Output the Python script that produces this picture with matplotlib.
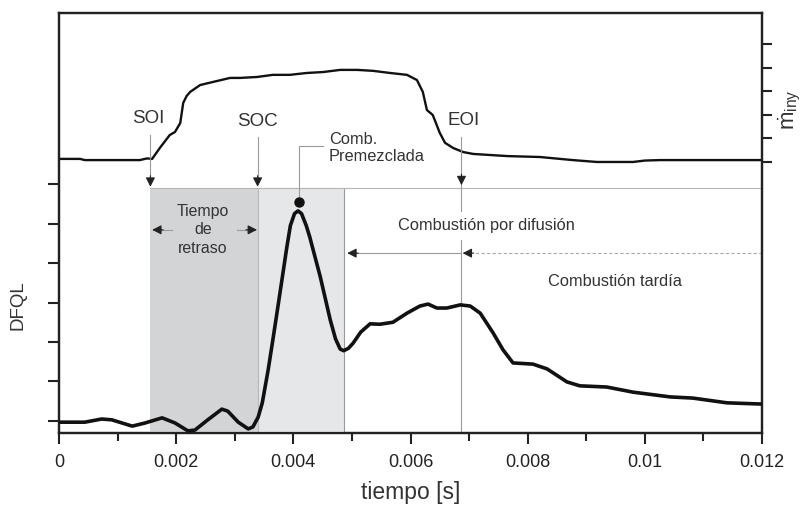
import matplotlib
matplotlib.use("Agg")
import matplotlib.pyplot as plt
from matplotlib.ticker import FixedLocator, MultipleLocator

plt.rcParams['font.family'] = ['Liberation Sans', 'DejaVu Sans']
plt.rcParams['mathtext.default'] = 'regular'

# ---- data (time in ms, converted to s) ----
t_iny = [0.0, 0.36, 0.44, 1.38, 1.50, 1.59, 1.72, 1.89, 1.98, 2.07, 2.12, 2.18, 2.24, 2.41, 2.63,
         2.92, 3.09, 3.38, 3.65, 3.94, 4.23, 4.51, 4.80, 5.09, 5.36, 5.65, 5.94, 6.11, 6.21,
         6.28, 6.38, 6.50, 6.59, 6.73, 6.90, 7.07, 7.65, 8.21, 8.77, 9.18, 9.80, 10.00,
         10.26, 12.0]
t_iny = [v * 1e-3 for v in t_iny]
m_iny = [0.13, 0.13, 0.08, 0.08, 0.15, 0.13, 0.59, 1.14, 1.27, 1.65, 2.50, 2.80, 2.97, 3.26, 3.39,
         3.56, 3.56, 3.60, 3.69, 3.69, 3.77, 3.81, 3.90, 3.90, 3.86, 3.77, 3.69, 3.47, 2.97,
         2.20, 1.99, 1.23, 0.81, 0.59, 0.42, 0.34, 0.25, 0.21, 0.08, 0.0, 0.0, 0.06,
         0.08, 0.08]

t_dfql = [0.0, 0.44, 0.73, 0.90, 1.25, 1.47, 1.76, 1.98, 2.20, 2.32, 2.54, 2.78, 2.88, 3.06,
          3.23, 3.31, 3.40, 3.47, 3.57, 3.65, 3.72, 3.89, 3.95, 4.02, 4.08, 4.14, 4.22, 4.28,
          4.46, 4.63, 4.72, 4.80, 4.86, 4.94, 5.02, 5.15, 5.31, 5.48, 5.70, 5.94, 6.16, 6.30,
          6.45, 6.62, 6.85, 7.02, 7.19, 7.41, 7.58, 7.75, 8.09, 8.33, 8.67, 8.89, 9.35, 9.80,
          10.43, 10.82, 11.40, 11.97, 12.0]
t_dfql = [v * 1e-3 for v in t_dfql]
dfql = [-0.03, -0.03, 0.05, 0.03, -0.13, -0.05, 0.08, -0.05, -0.25, -0.23, 0.03, 0.30, 0.25, -0.03,
        -0.20, -0.15, 0.10, 0.46, 1.29, 2.05, 2.73, 4.41, 4.95, 5.25, 5.32, 5.25, 4.95, 4.66,
        3.65, 2.56, 2.08, 1.82, 1.78, 1.84, 1.97, 2.25, 2.46, 2.45, 2.50, 2.73, 2.91, 2.96,
        2.86, 2.86, 2.94, 2.91, 2.73, 2.23, 1.80, 1.47, 1.44, 1.32, 0.99, 0.89, 0.86, 0.73,
        0.61, 0.58, 0.46, 0.43, 0.43]

# event times (s)
t_soi = 0.00156
t_soc = 0.00339
t_fin_premez = 0.00487
t_eoi = 0.00687
t_peak = 0.00409

x_ticks = [0, 0.002, 0.004, 0.006, 0.008, 0.010, 0.012]
x_tick_labels = ['0', '0.002', '0.004', '0.006', '0.008', '0.01', '0.012']

# ---- figure ----
fig = plt.figure(figsize=(8.08, 5.08), dpi=100)
ax = fig.add_axes([59/808, 75/508, 703/808, 420/508])
ax2 = ax.twinx()

txt = '#333333'
gline = '#9a9a9a'
top_band = 5.90

ax.set_xlim(0, 0.012)
ax.set_ylim(-0.304, 10.33)
ax2.set_ylim(-11.48, 6.31)

# shaded regions
ax.fill_between([t_soi, t_soc], -0.304, top_band, color='#d3d4d6', lw=0, zorder=1)
ax.fill_between([t_soc, t_fin_premez], -0.304, top_band, color='#e6e7e9', lw=0, zorder=1)
ax.plot([t_soc, t_soc], [-0.304, top_band], color='#b8b8ba', lw=0.8, zorder=1.5)
ax.plot([t_fin_premez, t_fin_premez], [-0.304, top_band], color=gline, lw=0.8, zorder=1.5)
ax.plot([t_soi, 0.012], [top_band, top_band], color='#b5b5b5', lw=0.8, zorder=1.5)
ax.plot([t_eoi, t_eoi], [-0.304, 7.19], color=gline, lw=0.8, zorder=1.5)

# curves
ax.plot(t_dfql, dfql, color='#111111', lw=2.6, solid_joinstyle='round', zorder=3)
ax2.plot(t_iny, m_iny, color='#111111', lw=1.7, solid_joinstyle='round', zorder=3)


def head(x, y, dx=0, dy=8):
    ax.annotate('', xy=(x, y), xytext=(dx, dy), textcoords='offset points',
                arrowprops=dict(arrowstyle='-|>,head_length=0.55,head_width=0.28',
                                color='#222222', lw=0.8, shrinkA=0, shrinkB=0), zorder=5)


# SOI / SOC / EOI labels and arrows
ax.text(0.00152, 7.65, 'SOI', ha='center', va='center', fontsize=13.5, color=txt)
ax.plot([t_soi, t_soi], [7.24, 6.1], color=gline, lw=0.8)
head(t_soi, 5.93)
ax.text(t_soc, 7.59, 'SOC', ha='center', va='center', fontsize=13.5, color=txt)
ax.plot([t_soc, t_soc], [7.19, 6.1], color=gline, lw=0.8)
head(t_soc, 5.93)
ax.text(0.00690, 7.62, 'EOI', ha='center', va='center', fontsize=13.5, color=txt)
head(t_eoi, 5.97)

# premixed combustion
ax.text(0.00461, 6.91, 'Comb.\nPremezclada', ha='left', va='center', fontsize=11.8,
        color=txt, linespacing=1.2)
ax.plot([0.00451, t_peak, t_peak], [6.96, 6.96, 5.67], color=gline, lw=0.8)
ax.plot([t_peak], [5.54], marker='o', ms=6.5, color='#111111', zorder=4)

# delay time
ax.text(0.00246, 4.84, 'Tiempo\nde\nretraso', ha='center', va='center', fontsize=11.4,
        color=txt, linespacing=1.3)
ax.plot([0.00193, 0.00170], [4.84, 4.84], color=gline, lw=0.8)
head(0.00159, 4.84, dx=8, dy=0)
ax.plot([0.00304, 0.00328], [4.84, 4.84], color=gline, lw=0.8)
head(0.00338, 4.84, dx=-8, dy=0)

# diffusion combustion
ax.text(0.00729, 4.94, 'Combustión por difusión', ha='center', va='center', fontsize=11.8,
        color=txt, zorder=4,
        bbox=dict(facecolor='white', edgecolor='none', pad=4.5))
ax.plot([t_eoi, t_fin_premez + 0.0002], [4.25, 4.25], color=gline, lw=0.8)
head(t_fin_premez + 0.00005, 4.25, dx=8, dy=0)
ax.plot([0.012, t_eoi + 0.0002], [4.25, 4.25], color='#aaaaaa', lw=0.8, ls=(0, (3, 2)))
head(t_eoi + 0.00002, 4.25, dx=8, dy=0)

ax.text(0.00949, 3.52, 'Combustión tardía', ha='center', va='center', fontsize=11.8, color=txt)

# axes styling
for a in (ax, ax2):
    for s in a.spines.values():
        s.set_linewidth(1.6)
        s.set_color('#222222')

ax.xaxis.set_major_locator(FixedLocator(x_ticks))
ax.set_xticklabels(x_tick_labels)
ax.xaxis.set_minor_locator(MultipleLocator(0.001))
ax.tick_params(axis='x', which='major', direction='out', length=8, width=1.5,
               labelsize=13, pad=7, colors='#222222')
ax.tick_params(axis='x', which='minor', direction='out', length=6, width=1.5, colors='#222222')
ax.set_yticks([0, 1, 2, 3, 4, 5, 6])
ax.set_yticklabels([])
ax.tick_params(axis='y', direction='out', length=8, width=1.5, colors='#222222')
ax2.set_yticks([0, 1, 2, 3, 4, 5])
ax2.set_yticklabels([])
ax2.tick_params(axis='y', direction='out', length=7, width=1.5, colors='#222222')

ax.set_xlabel('tiempo [s]', fontsize=16.5, color=txt, labelpad=7)
ax.text(-0.058, 0.305, 'DFQL', transform=ax.transAxes, rotation=90, ha='center',
        va='center', fontsize=13.5, color=txt)
ax.text(1.040, 0.77, r'$\dot{m}_{iny}$', transform=ax.transAxes, rotation=90, ha='center',
        va='center', fontsize=16, color=txt)

ax.set_zorder(ax2.get_zorder() + 1)
ax.patch.set_visible(False)

fig.savefig('out.png', dpi=100)
